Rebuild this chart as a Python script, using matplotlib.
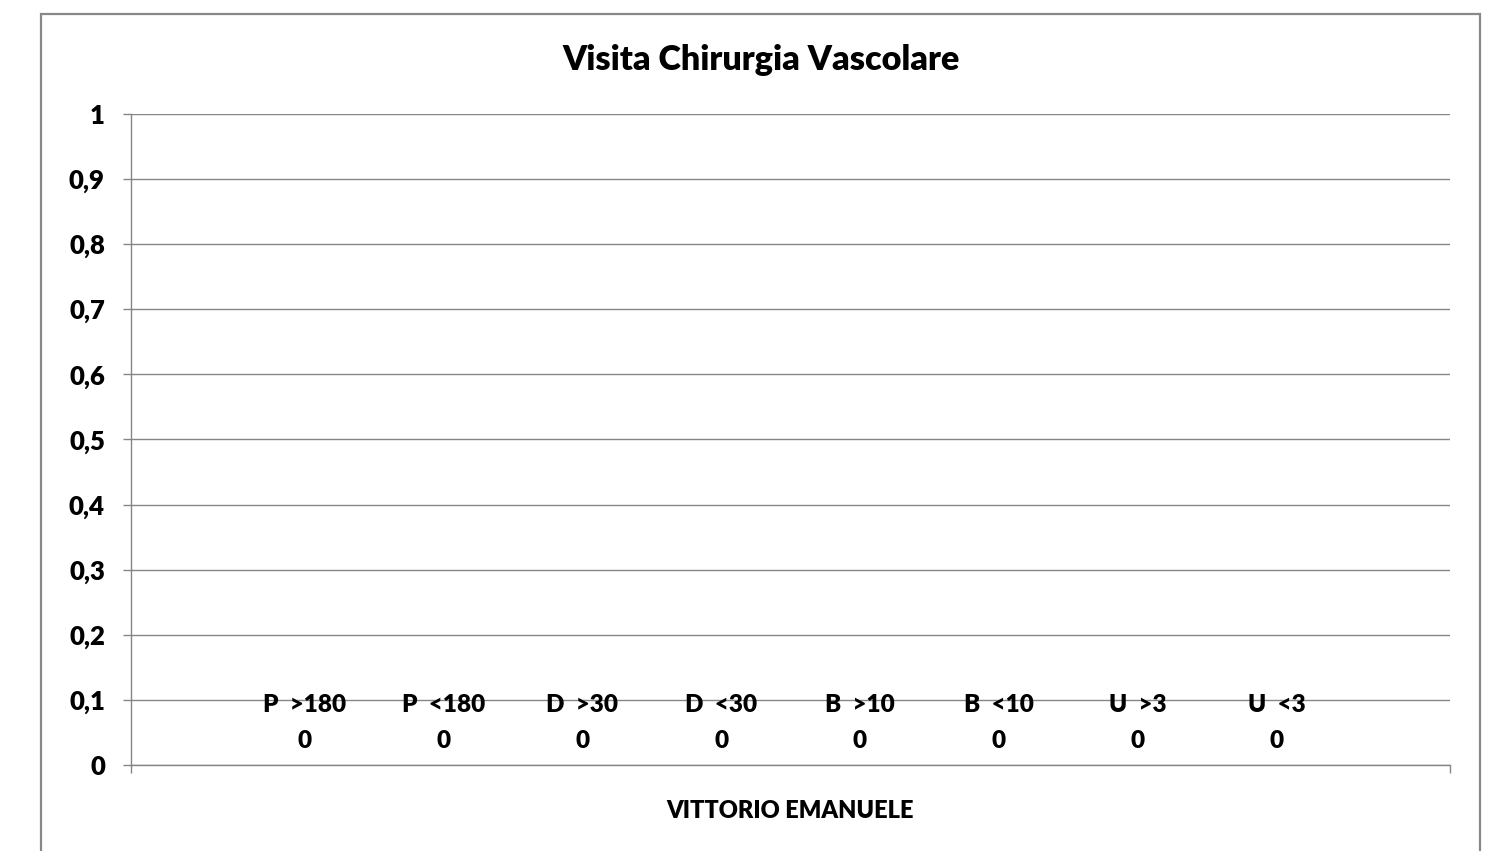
import matplotlib
matplotlib.use("Agg")
import matplotlib.pyplot as plt
from matplotlib.patches import Rectangle

title = "Visita Chirurgia Vascolare"
category = "VITTORIO EMANUELE"
series_names = ["P  >180", "P  <180", "D  >30", "D  <30", "B  >10", "B  <10", "U  >3", "U  <3"]
series_values = [0, 0, 0, 0, 0, 0, 0, 0]
y_ticks = [0, 0.1, 0.2, 0.3, 0.4, 0.5, 0.6, 0.7, 0.8, 0.9, 1.0]
y_tick_labels = ["0", "0,1", "0,2", "0,3", "0,4", "0,5", "0,6", "0,7", "0,8", "0,9", "1"]

W, H = 1488, 851
DPI = 100
FONT = "Lato"
WEIGHT = "heavy"
GRID = "#868686"

fig = plt.figure(figsize=(W / DPI, H / DPI), dpi=DPI)
fig.patch.set_facecolor("white")

# chart border
fig.patches.append(Rectangle((41 / W, -0.05), (1480 - 41) / W, (851 - 14) / H + 0.05,
                             transform=fig.transFigure, fill=False,
                             edgecolor="#888888", linewidth=1.6, zorder=0))

left, right, top, bottom = 131, 1450, 114, 765
ax = fig.add_axes([left / W, (H - bottom) / H, (right - left) / W, (bottom - top) / H])

n = len(series_names)
bw = 1.0 / (n + 1.5)
xs = [(i - (n - 1) / 2) * bw for i in range(n)]
ax.bar(xs, series_values, width=bw, color="#4F81BD")
for x, name, v in zip(xs, series_names, series_values):
    ax.annotate(f"{name}\n{v}", (x, v), xytext=(0, 9), textcoords="offset points",
                ha="center", va="bottom", multialignment="center",
                fontsize=17.5, fontweight=WEIGHT, family=FONT, linespacing=1.78)

ax.set_xlim(-0.5, 0.5)
ax.set_ylim(0, 1)
ax.set_yticks(y_ticks)
ax.set_yticklabels(y_tick_labels, fontsize=18.5, fontweight=WEIGHT, family=FONT)
ax.yaxis.grid(True, color=GRID, linewidth=1.0)
ax.set_axisbelow(True)

ax.set_xticks([-0.5, 0.5])
ax.set_xticklabels(["", ""])
ax.set_xticks([0], minor=True)
ax.set_xticklabels([category], minor=True, fontsize=17, fontweight=WEIGHT, family=FONT)
ax.tick_params(axis="x", which="minor", length=0, pad=25)
ax.tick_params(axis="x", which="major", length=5.5, color=GRID, width=1.0, direction="out")
ax.tick_params(axis="y", length=5.8, color=GRID, width=1.0, pad=13)

for s in ["top", "right"]:
    ax.spines[s].set_visible(False)
for s in ["left", "bottom"]:
    ax.spines[s].set_color(GRID)
    ax.spines[s].set_linewidth(1.0)

fig.text(761 / W, 1 - 60 / H, title, ha="center", va="center",
         fontsize=24.6, fontweight=WEIGHT, family=FONT)

fig.savefig("out.png", dpi=DPI)
